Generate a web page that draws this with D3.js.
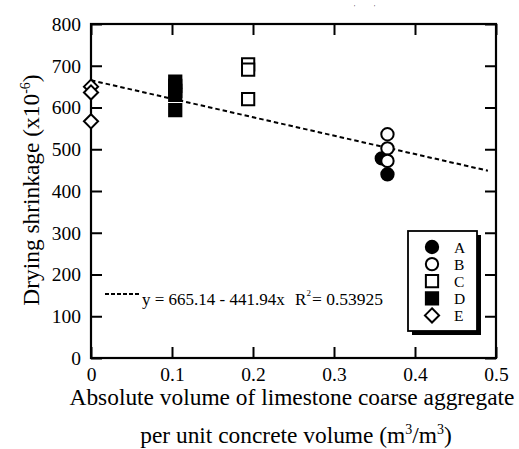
<!DOCTYPE html>
<html><head><meta charset="utf-8">
<script src="https://cdn.jsdelivr.net/npm/d3@7"></script>
<style>body{margin:0;background:#fff}svg{display:block}</style>
</head><body>
<svg id="c" width="519" height="449" font-family="'Liberation Serif', 'Times New Roman', Times, 'DejaVu Serif', serif"></svg>
<script>
const xTicks = [0, 0.1, 0.2, 0.3, 0.4, 0.5];
const yTicks = [0, 100, 200, 300, 400, 500, 600, 700, 800];
const seriesA = [[0.359, 478], [0.366, 440]];
const seriesB = [[0.366, 536], [0.366, 502], [0.366, 472]];
const seriesC = [[0.194, 703], [0.194, 691], [0.194, 620]];
const seriesD = [[0.104, 662], [0.104, 652], [0.104, 640], [0.104, 630], [0.104, 594]];
const seriesE = [[0, 650], [0, 636], [0, 567]];
const fitIntercept = 665.14, fitSlope = -441.94;
const legendNames = ["A", "B", "C", "D", "E"];

const FONT = "'Liberation Serif', 'Times New Roman', Times, 'DejaVu Serif', serif";
const svg = d3.select("#c");
const L = 91, R = 496, T = 24, B = 358;
const x = d3.scaleLinear().domain([0, 0.5]).range([L, R]);
const y = d3.scaleLinear().domain([0, 800]).range([B, T]);

const ax = (g, gen) => g.call(gen).attr("font-family", null)
  .call(s => s.select(".domain").remove())
  .call(s => s.selectAll("line").attr("stroke", "#000").attr("stroke-width", 2));
svg.append("g").attr("transform", `translate(0,${B})`).call(g => ax(g, d3.axisBottom(x).tickValues(xTicks).tickSize(-11).tickPadding(9).tickFormat(d => d === 0 ? "0" : d3.format(".1f")(d))));
svg.append("g").attr("transform", `translate(0,${T})`).call(g => ax(g, d3.axisTop(x).tickValues(xTicks).tickSize(-11).tickFormat("")));
svg.append("g").attr("transform", `translate(${L},0)`).call(g => ax(g, d3.axisLeft(y).tickValues(yTicks).tickSize(-11).tickPadding(10)));
svg.append("g").attr("transform", `translate(${R},0)`).call(g => ax(g, d3.axisRight(y).tickValues(yTicks).tickSize(-11).tickFormat("")));
svg.selectAll(".tick text").attr("fill", "#000").style("font-size", "19.5px").style("font-family", FONT);
svg.append("rect").attr("x", L).attr("y", T).attr("width", R - L).attr("height", B - T)
  .attr("fill", "none").attr("stroke", "#000").attr("stroke-width", 2.2);

// fit line
const fx = [0, 0.49];
svg.append("line").attr("x1", x(fx[0])).attr("y1", y(fitIntercept + fitSlope * fx[0]))
  .attr("x2", x(fx[1])).attr("y2", y(fitIntercept + fitSlope * fx[1]))
  .attr("stroke", "#000").attr("stroke-width", 2).attr("stroke-dasharray", "4.5,3");

// markers
const squareDiamond = {
  draw(ctx, size) {
    const r = Math.sqrt(size / 2);
    ctx.moveTo(0, -r); ctx.lineTo(r, 0); ctx.lineTo(0, r); ctx.lineTo(-r, 0); ctx.closePath();
  }
};
const circ = d3.symbol().type(d3.symbolCircle).size(120);
const sq = d3.symbol().type(d3.symbolSquare).size(150);
const dia = d3.symbol().type(squareDiamond).size(100);
function pts(data, gen, fill) {
  svg.append("g").selectAll("path").data(data).join("path")
    .attr("transform", d => `translate(${x(d[0])},${y(d[1])})`)
    .attr("d", gen).attr("fill", fill).attr("stroke", "#000").attr("stroke-width", 2);
}
pts(seriesE, dia, "#fff");
pts(seriesD, sq, "#000");
pts(seriesC, sq, "#fff");
pts(seriesA, circ, "#000");
pts(seriesB, circ, "#fff");

// legend
const lx = 408, ly = 231, lw = 69, lh = 100;
svg.append("rect").attr("x", lx + 4).attr("y", ly + 4).attr("width", lw).attr("height", lh).attr("fill", "#000");
svg.append("rect").attr("x", lx).attr("y", ly).attr("width", lw).attr("height", lh).attr("fill", "#fff").attr("stroke", "#000").attr("stroke-width", 1.8);
const legGens = [[circ, "#000"], [circ, "#fff"], [sq, "#fff"], [sq, "#000"], [dia, "#fff"]];
legendNames.forEach((n, i) => {
  const cy = 247 + i * 17.1;
  svg.append("path").attr("transform", `translate(432,${cy})`).attr("d", legGens[i][0])
    .attr("fill", legGens[i][1]).attr("stroke", "#000").attr("stroke-width", 2);
  svg.append("text").attr("x", 454).attr("y", cy + 6).style("font-size", "15.5px").text(n);
});

// equation
svg.append("line").attr("x1", 105).attr("x2", 140).attr("y1", 294).attr("y2", 294)
  .attr("stroke", "#000").attr("stroke-width", 2).attr("stroke-dasharray", "4,2");
svg.append("text").attr("x", 142).attr("y", 305).style("font-size", "17px").text("y = 665.14 - 441.94x");
svg.append("text").attr("x", 295).attr("y", 305).style("font-size", "17px").text("R");
svg.append("text").attr("x", 306.5).attr("y", 296).style("font-size", "9px").text("2");
svg.append("text").attr("x", 312).attr("y", 305).style("font-size", "17.5px").text("= 0.53925");

// titles
svg.append("text").attr("x", 292).attr("y", 405).attr("text-anchor", "middle").style("font-size", "23.4px")
  .text("Absolute volume of limestone coarse aggregate");
const t2 = svg.append("text").attr("x", 296).attr("y", 443).attr("text-anchor", "middle").style("font-size", "23.4px");
t2.append("tspan").text("per unit concrete volume (m");
t2.append("tspan").attr("dy", -9).style("font-size", "14px").text("3");
t2.append("tspan").attr("dy", 9).text("/m");
t2.append("tspan").attr("dy", -9).style("font-size", "14px").text("3");
t2.append("tspan").attr("dy", 9).text(")");
const yt = svg.append("text").attr("transform", "translate(39,190) rotate(-90)").attr("text-anchor", "middle").style("font-size", "23.4px");
yt.append("tspan").text("Drying shrinkage (x10");
yt.append("tspan").attr("dy", -9).style("font-size", "14px").text("-6");
yt.append("tspan").attr("dy", 9).text(")");
svg.append("text").attr("x", 354).attr("y", 9).style("font-size", "6px").text("'");
svg.append("text").attr("x", 374).attr("y", 9).style("font-size", "6px").text("'");
</script>
</body></html>
